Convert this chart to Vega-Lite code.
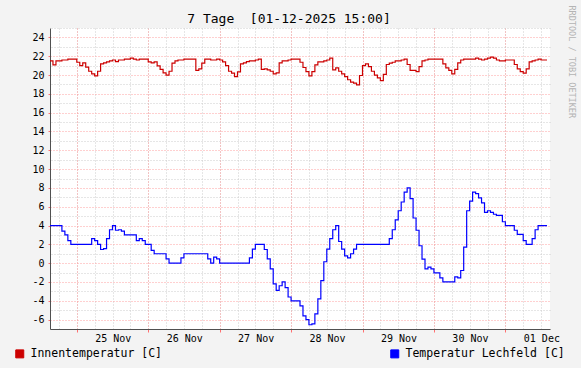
{
  "$schema": "https://vega.github.io/schema/vega-lite/v6.json",
  "width": 500,
  "height": 301,
  "autosize": {"type": "none"},
  "padding": {"left": 50, "top": 28, "right": 31, "bottom": 39},
  "background": "#f3f3f3",
  "view": {"fill": "#ffffff", "stroke": null},
  "title": {"text": "7 Tage\u00a0 [01-12-2025 15:00]", "font": "DejaVu Sans Mono", "fontSize": 13, "fontWeight": "normal", "color": "#000000", "frame": "group", "offset": 4, "dx": -11, "dy": 25},
  "datasets": {
    "inside": [
      {"t": "2025-11-24T15:00", "v": 21.5}, {"t": "2025-11-24T16:00", "v": 21.08}, {"t": "2025-11-24T17:00", "v": 21.5}, {"t": "2025-11-24T19:00", "v": 21.6}, {"t": "2025-11-24T21:00", "v": 21.7},
      {"t": "2025-11-25T00:00", "v": 21.36}, {"t": "2025-11-25T01:00", "v": 21.0}, {"t": "2025-11-25T02:00", "v": 21.3}, {"t": "2025-11-25T03:00", "v": 20.83}, {"t": "2025-11-25T04:00", "v": 20.4},
      {"t": "2025-11-25T05:00", "v": 20.13}, {"t": "2025-11-25T06:00", "v": 19.9}, {"t": "2025-11-25T07:00", "v": 20.4}, {"t": "2025-11-25T08:00", "v": 21.19}, {"t": "2025-11-25T09:00", "v": 21.3},
      {"t": "2025-11-25T10:00", "v": 21.4}, {"t": "2025-11-25T11:00", "v": 21.5}, {"t": "2025-11-25T12:00", "v": 21.6}, {"t": "2025-11-25T13:00", "v": 21.43}, {"t": "2025-11-25T14:00", "v": 21.6},
      {"t": "2025-11-25T16:00", "v": 21.7}, {"t": "2025-11-25T18:00", "v": 21.8}, {"t": "2025-11-25T19:00", "v": 21.7}, {"t": "2025-11-25T20:00", "v": 21.6}, {"t": "2025-11-25T21:00", "v": 21.7},
      {"t": "2025-11-26T00:00", "v": 21.4}, {"t": "2025-11-26T01:00", "v": 21.3}, {"t": "2025-11-26T02:00", "v": 21.4}, {"t": "2025-11-26T03:00", "v": 20.97}, {"t": "2025-11-26T04:00", "v": 20.6},
      {"t": "2025-11-26T05:00", "v": 20.23}, {"t": "2025-11-26T06:00", "v": 20.0}, {"t": "2025-11-26T07:00", "v": 20.4}, {"t": "2025-11-26T08:00", "v": 21.26}, {"t": "2025-11-26T09:00", "v": 21.5},
      {"t": "2025-11-26T10:00", "v": 21.6}, {"t": "2025-11-26T12:00", "v": 21.7}, {"t": "2025-11-26T16:00", "v": 20.5}, {"t": "2025-11-26T17:00", "v": 20.65}, {"t": "2025-11-26T18:00", "v": 21.26},
      {"t": "2025-11-26T19:00", "v": 21.7}, {"t": "2025-11-26T21:00", "v": 21.6}, {"t": "2025-11-26T23:00", "v": 21.7},
      {"t": "2025-11-27T00:00", "v": 21.6}, {"t": "2025-11-27T01:00", "v": 21.4}, {"t": "2025-11-27T02:00", "v": 21.0}, {"t": "2025-11-27T03:00", "v": 20.4}, {"t": "2025-11-27T04:00", "v": 20.2},
      {"t": "2025-11-27T05:00", "v": 19.84}, {"t": "2025-11-27T06:00", "v": 20.34}, {"t": "2025-11-27T07:00", "v": 21.19}, {"t": "2025-11-27T08:00", "v": 21.3}, {"t": "2025-11-27T09:00", "v": 21.43},
      {"t": "2025-11-27T10:00", "v": 21.5}, {"t": "2025-11-27T12:00", "v": 21.6}, {"t": "2025-11-27T13:00", "v": 21.7}, {"t": "2025-11-27T14:00", "v": 20.6}, {"t": "2025-11-27T15:00", "v": 20.65},
      {"t": "2025-11-27T16:00", "v": 20.55}, {"t": "2025-11-27T17:00", "v": 20.4}, {"t": "2025-11-27T18:00", "v": 20.13}, {"t": "2025-11-27T19:00", "v": 20.23}, {"t": "2025-11-27T20:00", "v": 21.3},
      {"t": "2025-11-27T21:00", "v": 21.5}, {"t": "2025-11-27T23:00", "v": 21.6},
      {"t": "2025-11-28T00:00", "v": 21.7}, {"t": "2025-11-28T03:00", "v": 21.36}, {"t": "2025-11-28T04:00", "v": 20.8}, {"t": "2025-11-28T05:00", "v": 20.37}, {"t": "2025-11-28T06:00", "v": 19.9},
      {"t": "2025-11-28T07:00", "v": 20.37}, {"t": "2025-11-28T08:00", "v": 21.08}, {"t": "2025-11-28T09:00", "v": 21.4}, {"t": "2025-11-28T11:00", "v": 21.5}, {"t": "2025-11-28T12:00", "v": 21.6},
      {"t": "2025-11-28T13:00", "v": 21.79}, {"t": "2025-11-28T14:00", "v": 20.55}, {"t": "2025-11-28T15:00", "v": 20.76}, {"t": "2025-11-28T16:00", "v": 20.4}, {"t": "2025-11-28T17:00", "v": 20.13},
      {"t": "2025-11-28T18:00", "v": 19.84}, {"t": "2025-11-28T19:00", "v": 19.5}, {"t": "2025-11-28T20:00", "v": 19.24}, {"t": "2025-11-28T21:00", "v": 19.14}, {"t": "2025-11-28T22:00", "v": 18.96},
      {"t": "2025-11-28T23:00", "v": 19.95},
      {"t": "2025-11-29T00:00", "v": 21.0}, {"t": "2025-11-29T01:00", "v": 21.19}, {"t": "2025-11-29T02:00", "v": 20.9}, {"t": "2025-11-29T03:00", "v": 20.4}, {"t": "2025-11-29T04:00", "v": 20.0},
      {"t": "2025-11-29T05:00", "v": 19.7}, {"t": "2025-11-29T06:00", "v": 19.4}, {"t": "2025-11-29T07:00", "v": 20.06}, {"t": "2025-11-29T08:00", "v": 21.12}, {"t": "2025-11-29T09:00", "v": 21.26},
      {"t": "2025-11-29T10:00", "v": 21.36}, {"t": "2025-11-29T11:00", "v": 21.5}, {"t": "2025-11-29T13:00", "v": 21.6}, {"t": "2025-11-29T14:00", "v": 21.7}, {"t": "2025-11-29T15:00", "v": 21.12},
      {"t": "2025-11-29T16:00", "v": 20.5}, {"t": "2025-11-29T18:00", "v": 20.37}, {"t": "2025-11-29T19:00", "v": 20.9}, {"t": "2025-11-29T20:00", "v": 21.5}, {"t": "2025-11-29T21:00", "v": 21.6},
      {"t": "2025-11-29T22:00", "v": 21.7},
      {"t": "2025-11-30T03:00", "v": 21.19}, {"t": "2025-11-30T04:00", "v": 20.76}, {"t": "2025-11-30T05:00", "v": 20.5}, {"t": "2025-11-30T06:00", "v": 20.13}, {"t": "2025-11-30T07:00", "v": 20.6},
      {"t": "2025-11-30T08:00", "v": 21.3}, {"t": "2025-11-30T09:00", "v": 21.6}, {"t": "2025-11-30T10:00", "v": 21.7}, {"t": "2025-11-30T14:00", "v": 21.8}, {"t": "2025-11-30T15:00", "v": 21.7},
      {"t": "2025-11-30T16:00", "v": 21.6}, {"t": "2025-11-30T17:00", "v": 21.7}, {"t": "2025-11-30T18:00", "v": 21.8}, {"t": "2025-11-30T19:00", "v": 21.9}, {"t": "2025-11-30T20:00", "v": 21.8},
      {"t": "2025-11-30T21:00", "v": 21.6}, {"t": "2025-11-30T22:00", "v": 21.5},
      {"t": "2025-12-01T00:00", "v": 21.6}, {"t": "2025-12-01T03:00", "v": 21.12}, {"t": "2025-12-01T04:00", "v": 20.65}, {"t": "2025-12-01T05:00", "v": 20.37}, {"t": "2025-12-01T06:00", "v": 20.2},
      {"t": "2025-12-01T07:00", "v": 20.65}, {"t": "2025-12-01T08:00", "v": 21.4}, {"t": "2025-12-01T09:00", "v": 21.5}, {"t": "2025-12-01T10:00", "v": 21.6}, {"t": "2025-12-01T11:00", "v": 21.7},
      {"t": "2025-12-01T12:00", "v": 21.6}, {"t": "2025-12-01T14:00", "v": 21.6}
    ],
    "outside": [
      {"t": "2025-11-24T15:00", "v": 4.0}, {"t": "2025-11-24T19:00", "v": 3.4}, {"t": "2025-11-24T20:00", "v": 3.0}, {"t": "2025-11-24T21:00", "v": 2.4}, {"t": "2025-11-24T22:00", "v": 2.0},
      {"t": "2025-11-25T05:00", "v": 2.6}, {"t": "2025-11-25T06:00", "v": 2.4}, {"t": "2025-11-25T07:00", "v": 2.0}, {"t": "2025-11-25T08:00", "v": 1.45}, {"t": "2025-11-25T09:00", "v": 1.55},
      {"t": "2025-11-25T10:00", "v": 2.6}, {"t": "2025-11-25T11:00", "v": 3.55}, {"t": "2025-11-25T12:00", "v": 4.0}, {"t": "2025-11-25T13:00", "v": 3.5}, {"t": "2025-11-25T14:00", "v": 3.55},
      {"t": "2025-11-25T15:00", "v": 3.4}, {"t": "2025-11-25T16:00", "v": 3.0}, {"t": "2025-11-25T20:00", "v": 2.4}, {"t": "2025-11-25T21:00", "v": 2.6}, {"t": "2025-11-25T22:00", "v": 2.4},
      {"t": "2025-11-25T23:00", "v": 2.0},
      {"t": "2025-11-26T01:00", "v": 1.35}, {"t": "2025-11-26T02:00", "v": 1.0}, {"t": "2025-11-26T06:00", "v": 0.46}, {"t": "2025-11-26T07:00", "v": 0.0}, {"t": "2025-11-26T11:00", "v": 0.57},
      {"t": "2025-11-26T12:00", "v": 1.0}, {"t": "2025-11-26T20:00", "v": 0.46}, {"t": "2025-11-26T21:00", "v": 0.0}, {"t": "2025-11-26T22:00", "v": 0.64}, {"t": "2025-11-26T23:00", "v": 0.46},
      {"t": "2025-11-27T00:00", "v": 0.0}, {"t": "2025-11-27T10:00", "v": 0.57}, {"t": "2025-11-27T11:00", "v": 1.5}, {"t": "2025-11-27T12:00", "v": 2.0}, {"t": "2025-11-27T15:00", "v": 1.45},
      {"t": "2025-11-27T16:00", "v": 0.46}, {"t": "2025-11-27T17:00", "v": -0.6}, {"t": "2025-11-27T18:00", "v": -2.2}, {"t": "2025-11-27T19:00", "v": -2.9}, {"t": "2025-11-27T20:00", "v": -2.4},
      {"t": "2025-11-27T21:00", "v": -2.0}, {"t": "2025-11-27T22:00", "v": -2.6}, {"t": "2025-11-27T23:00", "v": -3.6},
      {"t": "2025-11-28T00:00", "v": -4.0}, {"t": "2025-11-28T03:00", "v": -4.55}, {"t": "2025-11-28T04:00", "v": -5.6}, {"t": "2025-11-28T05:00", "v": -6.0}, {"t": "2025-11-28T06:00", "v": -6.55},
      {"t": "2025-11-28T07:00", "v": -6.45}, {"t": "2025-11-28T08:00", "v": -5.4}, {"t": "2025-11-28T09:00", "v": -3.8}, {"t": "2025-11-28T10:00", "v": -1.85}, {"t": "2025-11-28T11:00", "v": 0.15},
      {"t": "2025-11-28T12:00", "v": 1.5}, {"t": "2025-11-28T13:00", "v": 2.6}, {"t": "2025-11-28T14:00", "v": 3.55}, {"t": "2025-11-28T15:00", "v": 4.0}, {"t": "2025-11-28T16:00", "v": 2.3},
      {"t": "2025-11-28T17:00", "v": 1.5}, {"t": "2025-11-28T18:00", "v": 0.78}, {"t": "2025-11-28T19:00", "v": 0.57}, {"t": "2025-11-28T20:00", "v": 1.0}, {"t": "2025-11-28T21:00", "v": 1.5},
      {"t": "2025-11-28T22:00", "v": 2.0},
      {"t": "2025-11-29T09:00", "v": 2.6}, {"t": "2025-11-29T10:00", "v": 3.55}, {"t": "2025-11-29T11:00", "v": 4.6}, {"t": "2025-11-29T12:00", "v": 5.57}, {"t": "2025-11-29T13:00", "v": 6.5},
      {"t": "2025-11-29T14:00", "v": 7.55}, {"t": "2025-11-29T15:00", "v": 8.0}, {"t": "2025-11-29T16:00", "v": 6.85}, {"t": "2025-11-29T17:00", "v": 4.8}, {"t": "2025-11-29T18:00", "v": 3.5},
      {"t": "2025-11-29T19:00", "v": 1.85}, {"t": "2025-11-29T20:00", "v": 0.43}, {"t": "2025-11-29T21:00", "v": -0.6}, {"t": "2025-11-29T22:00", "v": -0.43}, {"t": "2025-11-29T23:00", "v": -0.6},
      {"t": "2025-11-30T00:00", "v": -1.03}, {"t": "2025-11-30T02:00", "v": -1.56}, {"t": "2025-11-30T03:00", "v": -2.0}, {"t": "2025-11-30T07:00", "v": -1.45}, {"t": "2025-11-30T08:00", "v": -1.56},
      {"t": "2025-11-30T09:00", "v": -0.78}, {"t": "2025-11-30T10:00", "v": 1.7}, {"t": "2025-11-30T11:00", "v": 5.57}, {"t": "2025-11-30T12:00", "v": 6.6}, {"t": "2025-11-30T13:00", "v": 7.55},
      {"t": "2025-11-30T14:00", "v": 7.4}, {"t": "2025-11-30T15:00", "v": 6.95}, {"t": "2025-11-30T16:00", "v": 6.4}, {"t": "2025-11-30T17:00", "v": 5.4}, {"t": "2025-11-30T18:00", "v": 5.57},
      {"t": "2025-11-30T19:00", "v": 5.4}, {"t": "2025-11-30T20:00", "v": 5.2}, {"t": "2025-11-30T21:00", "v": 5.07}, {"t": "2025-11-30T23:00", "v": 4.4},
      {"t": "2025-12-01T00:00", "v": 4.0}, {"t": "2025-12-01T03:00", "v": 3.5}, {"t": "2025-12-01T04:00", "v": 3.05}, {"t": "2025-12-01T06:00", "v": 2.4}, {"t": "2025-12-01T07:00", "v": 2.0},
      {"t": "2025-12-01T09:00", "v": 2.6}, {"t": "2025-12-01T10:00", "v": 3.55}, {"t": "2025-12-01T11:00", "v": 4.0}, {"t": "2025-12-01T14:00", "v": 4.0}
    ]
  },
  "layer": [
    {
      "data": {"name": "inside"},
      "mark": {"type": "line", "interpolate": "step-after", "strokeWidth": 1.2},
      "encoding": {
        "x": {
          "field": "t", "type": "temporal",
          "scale": {"domain": ["2025-11-24T15:00", "2025-12-01T15:00"], "nice": false},
          "axis": {"orient": "bottom", "title": null, "tickCount": 28, "grid": true, "gridColor": "#cccccc", "gridDash": [1, 2], "domain": false, "ticks": false, "labels": false}
        },
        "y": {
          "field": "v", "type": "quantitative",
          "scale": {"domain": [-7, 25], "nice": false, "zero": false},
          "axis": {
            "orient": "right",
            "values": [-7, -5, -3, -1, 1, 3, 5, 7, 9, 11, 13, 15, 17, 19, 21, 23, 25],
            "grid": true, "gridColor": "#cccccc", "gridDash": [1, 2],
            "domain": false, "ticks": false, "labels": false,
            "title": "RRDTOOL / TOBI OETIKER", "titleColor": "#b4b4b4", "titleFont": "DejaVu Sans Mono", "titleFontSize": 8.5, "titleFontWeight": "normal",
            "titleAngle": 90, "titleX": 21, "titleY": -23, "titleAlign": "left", "titleBaseline": "middle"
          }
        },
        "color": {
          "datum": "Innentemperatur [C]", "type": "nominal",
          "scale": {"domain": ["Innentemperatur [C]", "Temperatur Lechfeld [C]"], "range": ["#cc0000", "#0000ff"]},
          "legend": {
            "orient": "none", "legendX": -36, "legendY": 320, "direction": "horizontal", "columnPadding": 225,
            "title": null, "symbolType": "square", "symbolSize": 64,
            "labelFont": "DejaVu Sans Mono", "labelFontSize": 11.5, "labelColor": "#000000", "labelOffset": 5,
            "encode": {"symbols": {"update": {"fill": {"scale": "color", "field": "value"}, "stroke": {"value": "#000000"}, "strokeWidth": {"value": 1}}}}
          }
        }
      }
    },
    {
      "data": {"name": "outside"},
      "mark": {"type": "line", "interpolate": "step-after", "strokeWidth": 1.2},
      "encoding": {
        "x": {
          "field": "t", "type": "temporal",
          "axis": {
            "orient": "bottom", "title": null, "tickCount": 7,
            "grid": true, "gridColor": "#ffa0a0", "gridDash": [1, 2],
            "domain": true, "domainColor": "#505050",
            "ticks": true, "tickSize": 3, "tickColor": "#ff7070",
            "format": "%d %b", "labelOffset": 36, "labelFont": "DejaVu Sans Mono", "labelFontSize": 10, "labelColor": "#000000",
            "labelPadding": 1, "labelFlush": false
          }
        },
        "y": {
          "field": "v", "type": "quantitative",
          "axis": {
            "orient": "left", "title": null,
            "values": [-6, -4, -2, 0, 2, 4, 6, 8, 10, 12, 14, 16, 18, 20, 22, 24],
            "grid": true, "gridColor": "#ffa0a0", "gridDash": [1, 2],
            "domain": true, "domainColor": "#505050",
            "ticks": true, "tickSize": 2, "tickColor": "#ff7070",
            "labelExpr": "'' + datum.value",
            "labelFont": "DejaVu Sans Mono", "labelFontSize": 10, "labelColor": "#000000", "labelPadding": 4
          }
        },
        "color": {"datum": "Temperatur Lechfeld [C]", "type": "nominal"}
      }
    }
  ],
  "resolve": {"axis": {"x": "independent", "y": "independent"}}
}
